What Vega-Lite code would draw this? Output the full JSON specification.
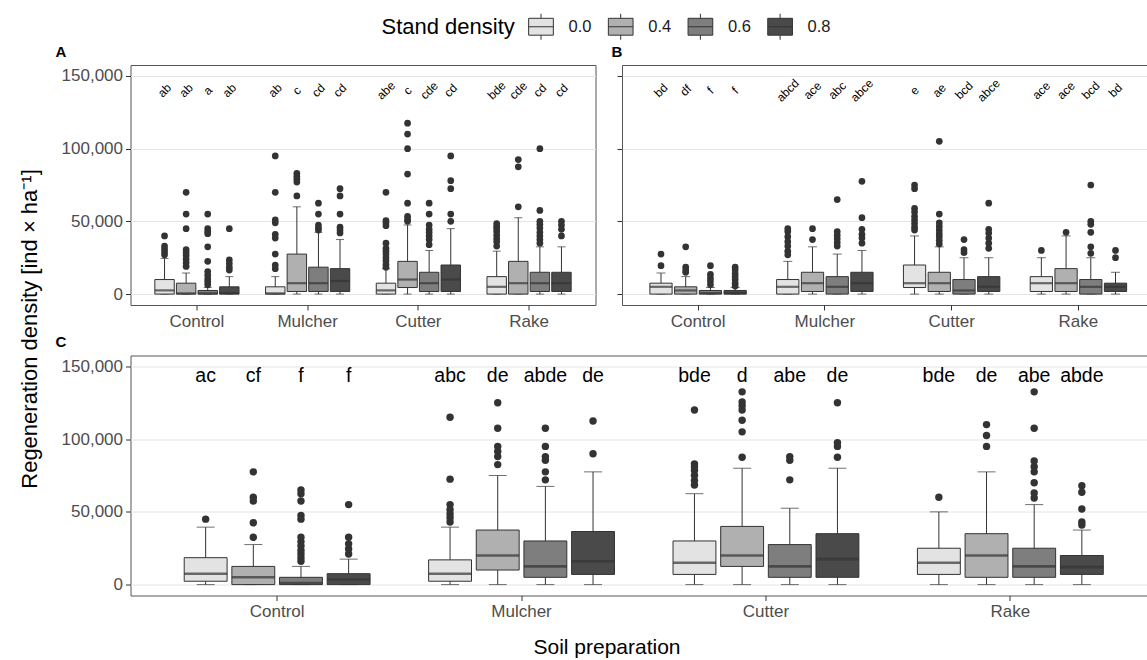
{
  "$schema": "https://vega.github.io/schema/vega-lite/v6.json",
  "background": "white",
  "padding": {"left": 18.5, "top": 13, "right": 0, "bottom": 0},
  "title": {"text": "Regeneration density [ind × ha⁻¹]", "orient": "left", "anchor": "middle", "frame": "bounds", "fontSize": 22, "fontWeight": "normal", "color": "#000000", "offset": 13, "dx": 6.5, "font": "Liberation Sans"},
  "config": {
    "font": "Liberation Sans",
    "view": {"stroke": "#555555", "strokeWidth": 1},
    "axis": {
      "domain": false,
      "labelFont": "Liberation Sans",
      "labelFontSize": 17,
      "labelColor": "#4D4D4D",
      "tickColor": "#333333",
      "tickSize": 5,
      "labelPadding": 3,
      "titleFont": "Liberation Sans",
      "titleFontSize": 21,
      "titleFontWeight": "normal",
      "titleColor": "#000000"
    },
    "axisX": {"grid": false, "labelAngle": 0},
    "title": {"anchor": "start", "frame": "group", "fontSize": 15, "fontWeight": "bold", "color": "#000000", "offset": 5.5, "font": "Liberation Sans"},
    "legend": {
      "direction": "horizontal",
      "titleOrient": "left",
      "titleFontSize": 22,
      "titleFontWeight": "normal",
      "titleColor": "#000000",
      "titleFont": "Liberation Sans",
      "titlePadding": 12,
      "labelFontSize": 16.5,
      "labelColor": "#1A1A1A",
      "labelFont": "Liberation Sans",
      "labelOffset": 14,
      "columnPadding": 14.7,
      "symbolType": "M-0.95,-0.65H0.95V0.65H-0.95Z M-0.95,0H0.95 M0,-0.65V-1 M0,0.65V1",
      "symbolSize": 676,
      "symbolStrokeColor": "#333333",
      "symbolStrokeWidth": 1,
      "padding": 0
    }
  },
  "datasets": {
    "boxes": [
      {"panel": "A", "prep": "Control", "dens": "0.0", "lo": 0, "q1": 0, "med": 2500, "q3": 10000, "hi": 24500},
      {"panel": "A", "prep": "Control", "dens": "0.4", "lo": 0, "q1": 0, "med": 500, "q3": 7500, "hi": 14500},
      {"panel": "A", "prep": "Control", "dens": "0.6", "lo": 0, "q1": 0, "med": 500, "q3": 2500, "hi": 4500},
      {"panel": "A", "prep": "Control", "dens": "0.8", "lo": 0, "q1": 0, "med": 700, "q3": 5000, "hi": 12000},
      {"panel": "A", "prep": "Mulcher", "dens": "0.0", "lo": 0, "q1": 0, "med": 500, "q3": 5000, "hi": 12000},
      {"panel": "A", "prep": "Mulcher", "dens": "0.4", "lo": 0, "q1": 1800, "med": 7500, "q3": 27500, "hi": 60000},
      {"panel": "A", "prep": "Mulcher", "dens": "0.6", "lo": 0, "q1": 1800, "med": 7500, "q3": 18500, "hi": 42500},
      {"panel": "A", "prep": "Mulcher", "dens": "0.8", "lo": 0, "q1": 1800, "med": 9000, "q3": 17500, "hi": 37500},
      {"panel": "A", "prep": "Cutter", "dens": "0.0", "lo": 0, "q1": 0, "med": 2500, "q3": 7500, "hi": 17500},
      {"panel": "A", "prep": "Cutter", "dens": "0.4", "lo": 0, "q1": 4500, "med": 10000, "q3": 22500, "hi": 47500},
      {"panel": "A", "prep": "Cutter", "dens": "0.6", "lo": 0, "q1": 1800, "med": 7500, "q3": 15000, "hi": 30000},
      {"panel": "A", "prep": "Cutter", "dens": "0.8", "lo": 0, "q1": 1800, "med": 10000, "q3": 20000, "hi": 45000},
      {"panel": "A", "prep": "Rake", "dens": "0.0", "lo": 0, "q1": 0, "med": 5000, "q3": 12000, "hi": 29500},
      {"panel": "A", "prep": "Rake", "dens": "0.4", "lo": 0, "q1": 0, "med": 7500, "q3": 22500, "hi": 52500},
      {"panel": "A", "prep": "Rake", "dens": "0.6", "lo": 0, "q1": 1800, "med": 7500, "q3": 15000, "hi": 32500},
      {"panel": "A", "prep": "Rake", "dens": "0.8", "lo": 0, "q1": 1800, "med": 7500, "q3": 15000, "hi": 32500},

      {"panel": "B", "prep": "Control", "dens": "0.0", "lo": 0, "q1": 0, "med": 5000, "q3": 7500, "hi": 14500},
      {"panel": "B", "prep": "Control", "dens": "0.4", "lo": 0, "q1": 0, "med": 2500, "q3": 5000, "hi": 12000},
      {"panel": "B", "prep": "Control", "dens": "0.6", "lo": 0, "q1": 0, "med": 700, "q3": 2500, "hi": 4500},
      {"panel": "B", "prep": "Control", "dens": "0.8", "lo": 0, "q1": 0, "med": 700, "q3": 2500, "hi": 4500},
      {"panel": "B", "prep": "Mulcher", "dens": "0.0", "lo": 0, "q1": 0, "med": 5000, "q3": 10000, "hi": 22500},
      {"panel": "B", "prep": "Mulcher", "dens": "0.4", "lo": 0, "q1": 1800, "med": 7500, "q3": 15000, "hi": 32500},
      {"panel": "B", "prep": "Mulcher", "dens": "0.6", "lo": 0, "q1": 0, "med": 5000, "q3": 12000, "hi": 27500},
      {"panel": "B", "prep": "Mulcher", "dens": "0.8", "lo": 0, "q1": 1800, "med": 7500, "q3": 15000, "hi": 30000},
      {"panel": "B", "prep": "Cutter", "dens": "0.0", "lo": 0, "q1": 4500, "med": 7500, "q3": 20000, "hi": 40000},
      {"panel": "B", "prep": "Cutter", "dens": "0.4", "lo": 0, "q1": 1800, "med": 7500, "q3": 15000, "hi": 32500},
      {"panel": "B", "prep": "Cutter", "dens": "0.6", "lo": 0, "q1": 0, "med": 2500, "q3": 10000, "hi": 25000},
      {"panel": "B", "prep": "Cutter", "dens": "0.8", "lo": 0, "q1": 1800, "med": 5000, "q3": 12000, "hi": 25000},
      {"panel": "B", "prep": "Rake", "dens": "0.0", "lo": 0, "q1": 1800, "med": 7500, "q3": 12000, "hi": 25000},
      {"panel": "B", "prep": "Rake", "dens": "0.4", "lo": 0, "q1": 1800, "med": 7500, "q3": 17500, "hi": 40000},
      {"panel": "B", "prep": "Rake", "dens": "0.6", "lo": 0, "q1": 0, "med": 5000, "q3": 10000, "hi": 25000},
      {"panel": "B", "prep": "Rake", "dens": "0.8", "lo": 0, "q1": 1800, "med": 5000, "q3": 7500, "hi": 15000},

      {"panel": "C", "prep": "Control", "dens": "0.0", "lo": 0, "q1": 2300, "med": 7500, "q3": 18500, "hi": 39500},
      {"panel": "C", "prep": "Control", "dens": "0.4", "lo": 0, "q1": 0, "med": 5000, "q3": 12500, "hi": 27500},
      {"panel": "C", "prep": "Control", "dens": "0.6", "lo": 0, "q1": 0, "med": 1000, "q3": 5000, "hi": 12500},
      {"panel": "C", "prep": "Control", "dens": "0.8", "lo": 0, "q1": 0, "med": 3500, "q3": 7500, "hi": 17500},
      {"panel": "C", "prep": "Mulcher", "dens": "0.0", "lo": 0, "q1": 2300, "med": 7500, "q3": 17000, "hi": 39500},
      {"panel": "C", "prep": "Mulcher", "dens": "0.4", "lo": 0, "q1": 10000, "med": 20000, "q3": 37500, "hi": 75000},
      {"panel": "C", "prep": "Mulcher", "dens": "0.6", "lo": 0, "q1": 5000, "med": 12500, "q3": 30000, "hi": 67500},
      {"panel": "C", "prep": "Mulcher", "dens": "0.8", "lo": 0, "q1": 7000, "med": 16000, "q3": 36500, "hi": 77500},
      {"panel": "C", "prep": "Cutter", "dens": "0.0", "lo": 0, "q1": 7000, "med": 15000, "q3": 30000, "hi": 62500},
      {"panel": "C", "prep": "Cutter", "dens": "0.4", "lo": 0, "q1": 12500, "med": 20000, "q3": 40000, "hi": 80000},
      {"panel": "C", "prep": "Cutter", "dens": "0.6", "lo": 0, "q1": 5000, "med": 12500, "q3": 27500, "hi": 52500},
      {"panel": "C", "prep": "Cutter", "dens": "0.8", "lo": 0, "q1": 5000, "med": 17500, "q3": 35000, "hi": 80000},
      {"panel": "C", "prep": "Rake", "dens": "0.0", "lo": 0, "q1": 7000, "med": 15000, "q3": 25000, "hi": 50000},
      {"panel": "C", "prep": "Rake", "dens": "0.4", "lo": 0, "q1": 5000, "med": 20000, "q3": 35000, "hi": 77500},
      {"panel": "C", "prep": "Rake", "dens": "0.6", "lo": 0, "q1": 5000, "med": 12500, "q3": 25000, "hi": 55000},
      {"panel": "C", "prep": "Rake", "dens": "0.8", "lo": 0, "q1": 7000, "med": 12000, "q3": 20000, "hi": 37500}
    ],
    "outliers": [
      {"panel": "A", "prep": "Control", "dens": "0.0", "v": 40000}, {"panel": "A", "prep": "Control", "dens": "0.0", "v": 33000}, {"panel": "A", "prep": "Control", "dens": "0.0", "v": 31000}, {"panel": "A", "prep": "Control", "dens": "0.0", "v": 29000}, {"panel": "A", "prep": "Control", "dens": "0.0", "v": 27000},
      {"panel": "A", "prep": "Control", "dens": "0.4", "v": 70000}, {"panel": "A", "prep": "Control", "dens": "0.4", "v": 55000}, {"panel": "A", "prep": "Control", "dens": "0.4", "v": 45000}, {"panel": "A", "prep": "Control", "dens": "0.4", "v": 30500}, {"panel": "A", "prep": "Control", "dens": "0.4", "v": 28500}, {"panel": "A", "prep": "Control", "dens": "0.4", "v": 26500}, {"panel": "A", "prep": "Control", "dens": "0.4", "v": 24000}, {"panel": "A", "prep": "Control", "dens": "0.4", "v": 21500}, {"panel": "A", "prep": "Control", "dens": "0.4", "v": 19000},
      {"panel": "A", "prep": "Control", "dens": "0.6", "v": 55000}, {"panel": "A", "prep": "Control", "dens": "0.6", "v": 45000}, {"panel": "A", "prep": "Control", "dens": "0.6", "v": 43000}, {"panel": "A", "prep": "Control", "dens": "0.6", "v": 41500}, {"panel": "A", "prep": "Control", "dens": "0.6", "v": 32500}, {"panel": "A", "prep": "Control", "dens": "0.6", "v": 22500}, {"panel": "A", "prep": "Control", "dens": "0.6", "v": 15500}, {"panel": "A", "prep": "Control", "dens": "0.6", "v": 13000}, {"panel": "A", "prep": "Control", "dens": "0.6", "v": 10500}, {"panel": "A", "prep": "Control", "dens": "0.6", "v": 8500}, {"panel": "A", "prep": "Control", "dens": "0.6", "v": 6500},
      {"panel": "A", "prep": "Control", "dens": "0.8", "v": 45000}, {"panel": "A", "prep": "Control", "dens": "0.8", "v": 23500}, {"panel": "A", "prep": "Control", "dens": "0.8", "v": 21000}, {"panel": "A", "prep": "Control", "dens": "0.8", "v": 18500}, {"panel": "A", "prep": "Control", "dens": "0.8", "v": 16500},
      {"panel": "A", "prep": "Mulcher", "dens": "0.0", "v": 95000}, {"panel": "A", "prep": "Mulcher", "dens": "0.0", "v": 70000}, {"panel": "A", "prep": "Mulcher", "dens": "0.0", "v": 51000}, {"panel": "A", "prep": "Mulcher", "dens": "0.0", "v": 49000}, {"panel": "A", "prep": "Mulcher", "dens": "0.0", "v": 41000}, {"panel": "A", "prep": "Mulcher", "dens": "0.0", "v": 38500}, {"panel": "A", "prep": "Mulcher", "dens": "0.0", "v": 27500}, {"panel": "A", "prep": "Mulcher", "dens": "0.0", "v": 20000}, {"panel": "A", "prep": "Mulcher", "dens": "0.0", "v": 17500},
      {"panel": "A", "prep": "Mulcher", "dens": "0.4", "v": 83000}, {"panel": "A", "prep": "Mulcher", "dens": "0.4", "v": 81000}, {"panel": "A", "prep": "Mulcher", "dens": "0.4", "v": 79000}, {"panel": "A", "prep": "Mulcher", "dens": "0.4", "v": 77000}, {"panel": "A", "prep": "Mulcher", "dens": "0.4", "v": 67500},
      {"panel": "A", "prep": "Mulcher", "dens": "0.6", "v": 62500}, {"panel": "A", "prep": "Mulcher", "dens": "0.6", "v": 55000}, {"panel": "A", "prep": "Mulcher", "dens": "0.6", "v": 47500}, {"panel": "A", "prep": "Mulcher", "dens": "0.6", "v": 45500}, {"panel": "A", "prep": "Mulcher", "dens": "0.6", "v": 44000},
      {"panel": "A", "prep": "Mulcher", "dens": "0.8", "v": 72500}, {"panel": "A", "prep": "Mulcher", "dens": "0.8", "v": 67500}, {"panel": "A", "prep": "Mulcher", "dens": "0.8", "v": 55000}, {"panel": "A", "prep": "Mulcher", "dens": "0.8", "v": 46000}, {"panel": "A", "prep": "Mulcher", "dens": "0.8", "v": 44000}, {"panel": "A", "prep": "Mulcher", "dens": "0.8", "v": 42000},
      {"panel": "A", "prep": "Cutter", "dens": "0.0", "v": 70000}, {"panel": "A", "prep": "Cutter", "dens": "0.0", "v": 50500}, {"panel": "A", "prep": "Cutter", "dens": "0.0", "v": 49000}, {"panel": "A", "prep": "Cutter", "dens": "0.0", "v": 47000}, {"panel": "A", "prep": "Cutter", "dens": "0.0", "v": 35000}, {"panel": "A", "prep": "Cutter", "dens": "0.0", "v": 31500}, {"panel": "A", "prep": "Cutter", "dens": "0.0", "v": 29500}, {"panel": "A", "prep": "Cutter", "dens": "0.0", "v": 27500}, {"panel": "A", "prep": "Cutter", "dens": "0.0", "v": 25000}, {"panel": "A", "prep": "Cutter", "dens": "0.0", "v": 23000}, {"panel": "A", "prep": "Cutter", "dens": "0.0", "v": 20500}, {"panel": "A", "prep": "Cutter", "dens": "0.0", "v": 18500},
      {"panel": "A", "prep": "Cutter", "dens": "0.4", "v": 117500}, {"panel": "A", "prep": "Cutter", "dens": "0.4", "v": 110000}, {"panel": "A", "prep": "Cutter", "dens": "0.4", "v": 100000}, {"panel": "A", "prep": "Cutter", "dens": "0.4", "v": 82500}, {"panel": "A", "prep": "Cutter", "dens": "0.4", "v": 62500}, {"panel": "A", "prep": "Cutter", "dens": "0.4", "v": 53500}, {"panel": "A", "prep": "Cutter", "dens": "0.4", "v": 51500}, {"panel": "A", "prep": "Cutter", "dens": "0.4", "v": 50000},
      {"panel": "A", "prep": "Cutter", "dens": "0.6", "v": 62500}, {"panel": "A", "prep": "Cutter", "dens": "0.6", "v": 55000}, {"panel": "A", "prep": "Cutter", "dens": "0.6", "v": 47500}, {"panel": "A", "prep": "Cutter", "dens": "0.6", "v": 44500}, {"panel": "A", "prep": "Cutter", "dens": "0.6", "v": 42500}, {"panel": "A", "prep": "Cutter", "dens": "0.6", "v": 40000}, {"panel": "A", "prep": "Cutter", "dens": "0.6", "v": 37500}, {"panel": "A", "prep": "Cutter", "dens": "0.6", "v": 34000},
      {"panel": "A", "prep": "Cutter", "dens": "0.8", "v": 95000}, {"panel": "A", "prep": "Cutter", "dens": "0.8", "v": 78000}, {"panel": "A", "prep": "Cutter", "dens": "0.8", "v": 72500}, {"panel": "A", "prep": "Cutter", "dens": "0.8", "v": 55000}, {"panel": "A", "prep": "Cutter", "dens": "0.8", "v": 50000},
      {"panel": "A", "prep": "Rake", "dens": "0.0", "v": 48500}, {"panel": "A", "prep": "Rake", "dens": "0.0", "v": 46500}, {"panel": "A", "prep": "Rake", "dens": "0.0", "v": 45000}, {"panel": "A", "prep": "Rake", "dens": "0.0", "v": 43000}, {"panel": "A", "prep": "Rake", "dens": "0.0", "v": 40500}, {"panel": "A", "prep": "Rake", "dens": "0.0", "v": 38000}, {"panel": "A", "prep": "Rake", "dens": "0.0", "v": 36000}, {"panel": "A", "prep": "Rake", "dens": "0.0", "v": 33000},
      {"panel": "A", "prep": "Rake", "dens": "0.4", "v": 92500}, {"panel": "A", "prep": "Rake", "dens": "0.4", "v": 87500}, {"panel": "A", "prep": "Rake", "dens": "0.4", "v": 60000},
      {"panel": "A", "prep": "Rake", "dens": "0.6", "v": 100000}, {"panel": "A", "prep": "Rake", "dens": "0.6", "v": 57500}, {"panel": "A", "prep": "Rake", "dens": "0.6", "v": 50000}, {"panel": "A", "prep": "Rake", "dens": "0.6", "v": 48000}, {"panel": "A", "prep": "Rake", "dens": "0.6", "v": 45500}, {"panel": "A", "prep": "Rake", "dens": "0.6", "v": 42500}, {"panel": "A", "prep": "Rake", "dens": "0.6", "v": 40000}, {"panel": "A", "prep": "Rake", "dens": "0.6", "v": 37500}, {"panel": "A", "prep": "Rake", "dens": "0.6", "v": 35000},
      {"panel": "A", "prep": "Rake", "dens": "0.8", "v": 50000}, {"panel": "A", "prep": "Rake", "dens": "0.8", "v": 47500}, {"panel": "A", "prep": "Rake", "dens": "0.8", "v": 44500}, {"panel": "A", "prep": "Rake", "dens": "0.8", "v": 40000},

      {"panel": "B", "prep": "Control", "dens": "0.0", "v": 27500}, {"panel": "B", "prep": "Control", "dens": "0.0", "v": 19500},
      {"panel": "B", "prep": "Control", "dens": "0.4", "v": 32500}, {"panel": "B", "prep": "Control", "dens": "0.4", "v": 18500}, {"panel": "B", "prep": "Control", "dens": "0.4", "v": 16500}, {"panel": "B", "prep": "Control", "dens": "0.4", "v": 15000},
      {"panel": "B", "prep": "Control", "dens": "0.6", "v": 19500}, {"panel": "B", "prep": "Control", "dens": "0.6", "v": 13500}, {"panel": "B", "prep": "Control", "dens": "0.6", "v": 11000}, {"panel": "B", "prep": "Control", "dens": "0.6", "v": 9000}, {"panel": "B", "prep": "Control", "dens": "0.6", "v": 6500},
      {"panel": "B", "prep": "Control", "dens": "0.8", "v": 18500}, {"panel": "B", "prep": "Control", "dens": "0.8", "v": 16500}, {"panel": "B", "prep": "Control", "dens": "0.8", "v": 14000}, {"panel": "B", "prep": "Control", "dens": "0.8", "v": 12000}, {"panel": "B", "prep": "Control", "dens": "0.8", "v": 10000}, {"panel": "B", "prep": "Control", "dens": "0.8", "v": 7500}, {"panel": "B", "prep": "Control", "dens": "0.8", "v": 5500},
      {"panel": "B", "prep": "Mulcher", "dens": "0.0", "v": 45000}, {"panel": "B", "prep": "Mulcher", "dens": "0.0", "v": 43000}, {"panel": "B", "prep": "Mulcher", "dens": "0.0", "v": 39500}, {"panel": "B", "prep": "Mulcher", "dens": "0.0", "v": 36000}, {"panel": "B", "prep": "Mulcher", "dens": "0.0", "v": 33000}, {"panel": "B", "prep": "Mulcher", "dens": "0.0", "v": 29500}, {"panel": "B", "prep": "Mulcher", "dens": "0.0", "v": 27000},
      {"panel": "B", "prep": "Mulcher", "dens": "0.4", "v": 45000}, {"panel": "B", "prep": "Mulcher", "dens": "0.4", "v": 37500},
      {"panel": "B", "prep": "Mulcher", "dens": "0.6", "v": 65000}, {"panel": "B", "prep": "Mulcher", "dens": "0.6", "v": 43000}, {"panel": "B", "prep": "Mulcher", "dens": "0.6", "v": 40500}, {"panel": "B", "prep": "Mulcher", "dens": "0.6", "v": 38000}, {"panel": "B", "prep": "Mulcher", "dens": "0.6", "v": 35500}, {"panel": "B", "prep": "Mulcher", "dens": "0.6", "v": 33000},
      {"panel": "B", "prep": "Mulcher", "dens": "0.8", "v": 77500}, {"panel": "B", "prep": "Mulcher", "dens": "0.8", "v": 52500}, {"panel": "B", "prep": "Mulcher", "dens": "0.8", "v": 44500}, {"panel": "B", "prep": "Mulcher", "dens": "0.8", "v": 41000}, {"panel": "B", "prep": "Mulcher", "dens": "0.8", "v": 38500}, {"panel": "B", "prep": "Mulcher", "dens": "0.8", "v": 35000},
      {"panel": "B", "prep": "Cutter", "dens": "0.0", "v": 75000}, {"panel": "B", "prep": "Cutter", "dens": "0.0", "v": 72500}, {"panel": "B", "prep": "Cutter", "dens": "0.0", "v": 59000}, {"panel": "B", "prep": "Cutter", "dens": "0.0", "v": 56500}, {"panel": "B", "prep": "Cutter", "dens": "0.0", "v": 53500}, {"panel": "B", "prep": "Cutter", "dens": "0.0", "v": 51000}, {"panel": "B", "prep": "Cutter", "dens": "0.0", "v": 48500}, {"panel": "B", "prep": "Cutter", "dens": "0.0", "v": 46000}, {"panel": "B", "prep": "Cutter", "dens": "0.0", "v": 44000},
      {"panel": "B", "prep": "Cutter", "dens": "0.4", "v": 105000}, {"panel": "B", "prep": "Cutter", "dens": "0.4", "v": 55000}, {"panel": "B", "prep": "Cutter", "dens": "0.4", "v": 49000}, {"panel": "B", "prep": "Cutter", "dens": "0.4", "v": 46500}, {"panel": "B", "prep": "Cutter", "dens": "0.4", "v": 44000}, {"panel": "B", "prep": "Cutter", "dens": "0.4", "v": 41500}, {"panel": "B", "prep": "Cutter", "dens": "0.4", "v": 39500}, {"panel": "B", "prep": "Cutter", "dens": "0.4", "v": 37000}, {"panel": "B", "prep": "Cutter", "dens": "0.4", "v": 34500},
      {"panel": "B", "prep": "Cutter", "dens": "0.6", "v": 37500}, {"panel": "B", "prep": "Cutter", "dens": "0.6", "v": 30500}, {"panel": "B", "prep": "Cutter", "dens": "0.6", "v": 28500},
      {"panel": "B", "prep": "Cutter", "dens": "0.8", "v": 62500}, {"panel": "B", "prep": "Cutter", "dens": "0.8", "v": 44500}, {"panel": "B", "prep": "Cutter", "dens": "0.8", "v": 42000}, {"panel": "B", "prep": "Cutter", "dens": "0.8", "v": 38500}, {"panel": "B", "prep": "Cutter", "dens": "0.8", "v": 35000}, {"panel": "B", "prep": "Cutter", "dens": "0.8", "v": 31500},
      {"panel": "B", "prep": "Rake", "dens": "0.0", "v": 30000},
      {"panel": "B", "prep": "Rake", "dens": "0.4", "v": 42500},
      {"panel": "B", "prep": "Rake", "dens": "0.6", "v": 75000}, {"panel": "B", "prep": "Rake", "dens": "0.6", "v": 50000}, {"panel": "B", "prep": "Rake", "dens": "0.6", "v": 48000}, {"panel": "B", "prep": "Rake", "dens": "0.6", "v": 42500}, {"panel": "B", "prep": "Rake", "dens": "0.6", "v": 32500}, {"panel": "B", "prep": "Rake", "dens": "0.6", "v": 28000},
      {"panel": "B", "prep": "Rake", "dens": "0.8", "v": 30000}, {"panel": "B", "prep": "Rake", "dens": "0.8", "v": 25000},

      {"panel": "C", "prep": "Control", "dens": "0.0", "v": 45000},
      {"panel": "C", "prep": "Control", "dens": "0.4", "v": 77500}, {"panel": "C", "prep": "Control", "dens": "0.4", "v": 60000}, {"panel": "C", "prep": "Control", "dens": "0.4", "v": 57500}, {"panel": "C", "prep": "Control", "dens": "0.4", "v": 42500}, {"panel": "C", "prep": "Control", "dens": "0.4", "v": 32500},
      {"panel": "C", "prep": "Control", "dens": "0.6", "v": 65000}, {"panel": "C", "prep": "Control", "dens": "0.6", "v": 62500}, {"panel": "C", "prep": "Control", "dens": "0.6", "v": 57500}, {"panel": "C", "prep": "Control", "dens": "0.6", "v": 47500}, {"panel": "C", "prep": "Control", "dens": "0.6", "v": 45000}, {"panel": "C", "prep": "Control", "dens": "0.6", "v": 32500}, {"panel": "C", "prep": "Control", "dens": "0.6", "v": 29500}, {"panel": "C", "prep": "Control", "dens": "0.6", "v": 26500}, {"panel": "C", "prep": "Control", "dens": "0.6", "v": 23500}, {"panel": "C", "prep": "Control", "dens": "0.6", "v": 21000}, {"panel": "C", "prep": "Control", "dens": "0.6", "v": 18500}, {"panel": "C", "prep": "Control", "dens": "0.6", "v": 16000},
      {"panel": "C", "prep": "Control", "dens": "0.8", "v": 55000}, {"panel": "C", "prep": "Control", "dens": "0.8", "v": 32500}, {"panel": "C", "prep": "Control", "dens": "0.8", "v": 28000}, {"panel": "C", "prep": "Control", "dens": "0.8", "v": 24500}, {"panel": "C", "prep": "Control", "dens": "0.8", "v": 21000},
      {"panel": "C", "prep": "Mulcher", "dens": "0.0", "v": 115000}, {"panel": "C", "prep": "Mulcher", "dens": "0.0", "v": 72500}, {"panel": "C", "prep": "Mulcher", "dens": "0.0", "v": 55000}, {"panel": "C", "prep": "Mulcher", "dens": "0.0", "v": 51500}, {"panel": "C", "prep": "Mulcher", "dens": "0.0", "v": 48500}, {"panel": "C", "prep": "Mulcher", "dens": "0.0", "v": 46000}, {"panel": "C", "prep": "Mulcher", "dens": "0.0", "v": 43000},
      {"panel": "C", "prep": "Mulcher", "dens": "0.4", "v": 125000}, {"panel": "C", "prep": "Mulcher", "dens": "0.4", "v": 107500}, {"panel": "C", "prep": "Mulcher", "dens": "0.4", "v": 95000}, {"panel": "C", "prep": "Mulcher", "dens": "0.4", "v": 91500}, {"panel": "C", "prep": "Mulcher", "dens": "0.4", "v": 88000}, {"panel": "C", "prep": "Mulcher", "dens": "0.4", "v": 82500},
      {"panel": "C", "prep": "Mulcher", "dens": "0.6", "v": 107500}, {"panel": "C", "prep": "Mulcher", "dens": "0.6", "v": 95000}, {"panel": "C", "prep": "Mulcher", "dens": "0.6", "v": 88000}, {"panel": "C", "prep": "Mulcher", "dens": "0.6", "v": 85500}, {"panel": "C", "prep": "Mulcher", "dens": "0.6", "v": 77500}, {"panel": "C", "prep": "Mulcher", "dens": "0.6", "v": 72000},
      {"panel": "C", "prep": "Mulcher", "dens": "0.8", "v": 112500}, {"panel": "C", "prep": "Mulcher", "dens": "0.8", "v": 90000},
      {"panel": "C", "prep": "Cutter", "dens": "0.0", "v": 120000}, {"panel": "C", "prep": "Cutter", "dens": "0.0", "v": 83000}, {"panel": "C", "prep": "Cutter", "dens": "0.0", "v": 81000}, {"panel": "C", "prep": "Cutter", "dens": "0.0", "v": 78500}, {"panel": "C", "prep": "Cutter", "dens": "0.0", "v": 75000}, {"panel": "C", "prep": "Cutter", "dens": "0.0", "v": 71500}, {"panel": "C", "prep": "Cutter", "dens": "0.0", "v": 68500},
      {"panel": "C", "prep": "Cutter", "dens": "0.4", "v": 132500}, {"panel": "C", "prep": "Cutter", "dens": "0.4", "v": 125500}, {"panel": "C", "prep": "Cutter", "dens": "0.4", "v": 123000}, {"panel": "C", "prep": "Cutter", "dens": "0.4", "v": 120000}, {"panel": "C", "prep": "Cutter", "dens": "0.4", "v": 113000}, {"panel": "C", "prep": "Cutter", "dens": "0.4", "v": 105000}, {"panel": "C", "prep": "Cutter", "dens": "0.4", "v": 87500},
      {"panel": "C", "prep": "Cutter", "dens": "0.6", "v": 88000}, {"panel": "C", "prep": "Cutter", "dens": "0.6", "v": 85500}, {"panel": "C", "prep": "Cutter", "dens": "0.6", "v": 72000},
      {"panel": "C", "prep": "Cutter", "dens": "0.8", "v": 125000}, {"panel": "C", "prep": "Cutter", "dens": "0.8", "v": 97500}, {"panel": "C", "prep": "Cutter", "dens": "0.8", "v": 95000}, {"panel": "C", "prep": "Cutter", "dens": "0.8", "v": 87500},
      {"panel": "C", "prep": "Rake", "dens": "0.0", "v": 60000},
      {"panel": "C", "prep": "Rake", "dens": "0.4", "v": 110000}, {"panel": "C", "prep": "Rake", "dens": "0.4", "v": 102500}, {"panel": "C", "prep": "Rake", "dens": "0.4", "v": 95000},
      {"panel": "C", "prep": "Rake", "dens": "0.6", "v": 132500}, {"panel": "C", "prep": "Rake", "dens": "0.6", "v": 107500}, {"panel": "C", "prep": "Rake", "dens": "0.6", "v": 85000}, {"panel": "C", "prep": "Rake", "dens": "0.6", "v": 81000}, {"panel": "C", "prep": "Rake", "dens": "0.6", "v": 77500}, {"panel": "C", "prep": "Rake", "dens": "0.6", "v": 70000}, {"panel": "C", "prep": "Rake", "dens": "0.6", "v": 63000}, {"panel": "C", "prep": "Rake", "dens": "0.6", "v": 59500},
      {"panel": "C", "prep": "Rake", "dens": "0.8", "v": 68000}, {"panel": "C", "prep": "Rake", "dens": "0.8", "v": 63500}, {"panel": "C", "prep": "Rake", "dens": "0.8", "v": 52000}, {"panel": "C", "prep": "Rake", "dens": "0.8", "v": 43000}, {"panel": "C", "prep": "Rake", "dens": "0.8", "v": 41000}
    ],
    "letters": [
      {"panel": "A", "prep": "Control", "dens": "0.0", "lab": "ab"}, {"panel": "A", "prep": "Control", "dens": "0.4", "lab": "ab"}, {"panel": "A", "prep": "Control", "dens": "0.6", "lab": "a"}, {"panel": "A", "prep": "Control", "dens": "0.8", "lab": "ab"},
      {"panel": "A", "prep": "Mulcher", "dens": "0.0", "lab": "ab"}, {"panel": "A", "prep": "Mulcher", "dens": "0.4", "lab": "c"}, {"panel": "A", "prep": "Mulcher", "dens": "0.6", "lab": "cd"}, {"panel": "A", "prep": "Mulcher", "dens": "0.8", "lab": "cd"},
      {"panel": "A", "prep": "Cutter", "dens": "0.0", "lab": "abe"}, {"panel": "A", "prep": "Cutter", "dens": "0.4", "lab": "c"}, {"panel": "A", "prep": "Cutter", "dens": "0.6", "lab": "cde"}, {"panel": "A", "prep": "Cutter", "dens": "0.8", "lab": "cd"},
      {"panel": "A", "prep": "Rake", "dens": "0.0", "lab": "bde"}, {"panel": "A", "prep": "Rake", "dens": "0.4", "lab": "cde"}, {"panel": "A", "prep": "Rake", "dens": "0.6", "lab": "cd"}, {"panel": "A", "prep": "Rake", "dens": "0.8", "lab": "cd"},
      {"panel": "B", "prep": "Control", "dens": "0.0", "lab": "bd"}, {"panel": "B", "prep": "Control", "dens": "0.4", "lab": "df"}, {"panel": "B", "prep": "Control", "dens": "0.6", "lab": "f"}, {"panel": "B", "prep": "Control", "dens": "0.8", "lab": "f"},
      {"panel": "B", "prep": "Mulcher", "dens": "0.0", "lab": "abcd"}, {"panel": "B", "prep": "Mulcher", "dens": "0.4", "lab": "ace"}, {"panel": "B", "prep": "Mulcher", "dens": "0.6", "lab": "abc"}, {"panel": "B", "prep": "Mulcher", "dens": "0.8", "lab": "abce"},
      {"panel": "B", "prep": "Cutter", "dens": "0.0", "lab": "e"}, {"panel": "B", "prep": "Cutter", "dens": "0.4", "lab": "ae"}, {"panel": "B", "prep": "Cutter", "dens": "0.6", "lab": "bcd"}, {"panel": "B", "prep": "Cutter", "dens": "0.8", "lab": "abce"},
      {"panel": "B", "prep": "Rake", "dens": "0.0", "lab": "ace"}, {"panel": "B", "prep": "Rake", "dens": "0.4", "lab": "ace"}, {"panel": "B", "prep": "Rake", "dens": "0.6", "lab": "bcd"}, {"panel": "B", "prep": "Rake", "dens": "0.8", "lab": "bd"},
      {"panel": "C", "prep": "Control", "dens": "0.0", "lab": "ac"}, {"panel": "C", "prep": "Control", "dens": "0.4", "lab": "cf"}, {"panel": "C", "prep": "Control", "dens": "0.6", "lab": "f"}, {"panel": "C", "prep": "Control", "dens": "0.8", "lab": "f"},
      {"panel": "C", "prep": "Mulcher", "dens": "0.0", "lab": "abc"}, {"panel": "C", "prep": "Mulcher", "dens": "0.4", "lab": "de"}, {"panel": "C", "prep": "Mulcher", "dens": "0.6", "lab": "abde"}, {"panel": "C", "prep": "Mulcher", "dens": "0.8", "lab": "de"},
      {"panel": "C", "prep": "Cutter", "dens": "0.0", "lab": "bde"}, {"panel": "C", "prep": "Cutter", "dens": "0.4", "lab": "d"}, {"panel": "C", "prep": "Cutter", "dens": "0.6", "lab": "abe"}, {"panel": "C", "prep": "Cutter", "dens": "0.8", "lab": "de"},
      {"panel": "C", "prep": "Rake", "dens": "0.0", "lab": "bde"}, {"panel": "C", "prep": "Rake", "dens": "0.4", "lab": "de"}, {"panel": "C", "prep": "Rake", "dens": "0.6", "lab": "abe"}, {"panel": "C", "prep": "Rake", "dens": "0.8", "lab": "abde"}
    ]
  },
  "spacing": 4.5,
  "resolve": {"scale": {"x": "independent", "xOffset": "independent", "y": "independent", "fill": "shared"}, "legend": {"fill": "shared"}},
  "vconcat": [
    {
      "spacing": 14.5,
      "resolve": {"scale": {"x": "independent", "xOffset": "independent", "y": "independent", "fill": "shared"}},
      "hconcat": [
        {
          "width": 465,
          "height": 240,
          "title": {"text": "A", "dx": -75},
          "encoding": {
            "x": {"field": "prep", "type": "nominal", "sort": ["Control", "Mulcher", "Cutter", "Rake"], "scale": {"paddingInner": 0.22, "paddingOuter": 0.21}, "axis": {"title": null}},
            "xOffset": {"field": "dens", "type": "nominal", "sort": ["0.0", "0.4", "0.6", "0.8"], "scale": {"paddingInner": 0.1, "paddingOuter": 0.05}}
          },
          "layer": [
            {
              "data": {"name": "boxes"},
              "transform": [{"filter": "datum.panel === 'A'"}],
              "mark": {"type": "rule", "color": "#333333", "strokeWidth": 1},
              "encoding": {
                "y": {"field": "lo", "type": "quantitative", "scale": {"domain": [-7500, 157500], "nice": false, "zero": false},
                  "axis": {"title": null, "values": [0, 25000, 50000, 75000, 100000, 125000, 150000], "labelExpr": "datum.value % 50000 === 0 ? format(datum.value, ',') : ''", "labelOverlap": false, "grid": true,
                    "gridColor": {"condition": {"test": "datum.value % 50000 === 0", "value": "#E4E4E4"}, "value": "#F2F2F2"},
                    "gridWidth": {"condition": {"test": "datum.value % 50000 === 0", "value": 1}, "value": 0.8},
                    "tickOpacity": {"condition": {"test": "datum.value % 50000 === 0", "value": 1}, "value": 0}}},
                "y2": {"field": "hi"}
              }
            },
            {
              "data": {"name": "boxes"},
              "transform": [{"filter": "datum.panel === 'A'"}],
              "mark": {"type": "tick", "color": "#333333", "size": 8, "thickness": 1},
              "encoding": {"y": {"field": "lo", "type": "quantitative"}}
            },
            {
              "data": {"name": "boxes"},
              "transform": [{"filter": "datum.panel === 'A'"}],
              "mark": {"type": "tick", "color": "#333333", "size": 8, "thickness": 1},
              "encoding": {"y": {"field": "hi", "type": "quantitative"}}
            },
            {
              "data": {"name": "boxes"},
              "transform": [{"filter": "datum.panel === 'A'"}],
              "mark": {"type": "bar", "stroke": "#333333", "strokeWidth": 1},
              "encoding": {
                "y": {"field": "q1", "type": "quantitative"},
                "y2": {"field": "q3"},
                "fill": {"field": "dens", "type": "nominal", "title": "Stand density", "scale": {"domain": ["0.0", "0.4", "0.6", "0.8"], "range": ["#E3E3E3", "#B0B0B0", "#7E7E7E", "#4A4A4A"]},
                  "legend": {"orient": "none", "legendX": 251, "legendY": -52}}
              }
            },
            {
              "data": {"name": "boxes"},
              "transform": [{"filter": "datum.panel === 'A'"}],
              "mark": {"type": "tick", "color": "#333333", "size": 19.4, "thickness": 2.2},
              "encoding": {"y": {"field": "med", "type": "quantitative"}}
            },
            {
              "data": {"name": "outliers"},
              "transform": [{"filter": "datum.panel === 'A'"}],
              "mark": {"type": "circle", "color": "#333333", "size": 45, "opacity": 1},
              "encoding": {"y": {"field": "v", "type": "quantitative"}}
            },
            {
              "data": {"name": "letters"},
              "transform": [{"filter": "datum.panel === 'A'"}],
              "mark": {"type": "text", "angle": 315, "fontSize": 12, "color": "#000000", "align": "center", "baseline": "middle"},
              "encoding": {"y": {"datum": 140000, "type": "quantitative"}, "text": {"field": "lab"}}
            }
          ]
        },
        {
          "width": 532.5,
          "height": 240,
          "title": {"text": "B", "dx": -10.5},
          "encoding": {
            "x": {"field": "prep", "type": "nominal", "sort": ["Control", "Mulcher", "Cutter", "Rake"], "scale": {"paddingInner": 0.22, "paddingOuter": 0.21}, "axis": {"title": null}},
            "xOffset": {"field": "dens", "type": "nominal", "sort": ["0.0", "0.4", "0.6", "0.8"], "scale": {"paddingInner": 0.1, "paddingOuter": 0.05}}
          },
          "layer": [
            {
              "data": {"name": "boxes"},
              "transform": [{"filter": "datum.panel === 'B'"}],
              "mark": {"type": "rule", "color": "#333333", "strokeWidth": 1},
              "encoding": {
                "y": {"field": "lo", "type": "quantitative", "scale": {"domain": [-7500, 157500], "nice": false, "zero": false},
                  "axis": {"title": null, "values": [0, 25000, 50000, 75000, 100000, 125000, 150000], "labels": false, "grid": true,
                    "gridColor": {"condition": {"test": "datum.value % 50000 === 0", "value": "#E4E4E4"}, "value": "#F2F2F2"},
                    "gridWidth": {"condition": {"test": "datum.value % 50000 === 0", "value": 1}, "value": 0.8},
                    "tickOpacity": {"condition": {"test": "datum.value % 50000 === 0", "value": 1}, "value": 0}}},
                "y2": {"field": "hi"}
              }
            },
            {
              "data": {"name": "boxes"},
              "transform": [{"filter": "datum.panel === 'B'"}],
              "mark": {"type": "tick", "color": "#333333", "size": 9, "thickness": 1},
              "encoding": {"y": {"field": "lo", "type": "quantitative"}}
            },
            {
              "data": {"name": "boxes"},
              "transform": [{"filter": "datum.panel === 'B'"}],
              "mark": {"type": "tick", "color": "#333333", "size": 9, "thickness": 1},
              "encoding": {"y": {"field": "hi", "type": "quantitative"}}
            },
            {
              "data": {"name": "boxes"},
              "transform": [{"filter": "datum.panel === 'B'"}],
              "mark": {"type": "bar", "stroke": "#333333", "strokeWidth": 1},
              "encoding": {
                "y": {"field": "q1", "type": "quantitative"},
                "y2": {"field": "q3"},
                "fill": {"field": "dens", "type": "nominal", "title": "Stand density", "scale": {"domain": ["0.0", "0.4", "0.6", "0.8"], "range": ["#E3E3E3", "#B0B0B0", "#7E7E7E", "#4A4A4A"]},
                  "legend": {"orient": "none", "legendX": 251, "legendY": -52}}
              }
            },
            {
              "data": {"name": "boxes"},
              "transform": [{"filter": "datum.panel === 'B'"}],
              "mark": {"type": "tick", "color": "#333333", "size": 22.2, "thickness": 2.2},
              "encoding": {"y": {"field": "med", "type": "quantitative"}}
            },
            {
              "data": {"name": "outliers"},
              "transform": [{"filter": "datum.panel === 'B'"}],
              "mark": {"type": "circle", "color": "#333333", "size": 45, "opacity": 1},
              "encoding": {"y": {"field": "v", "type": "quantitative"}}
            },
            {
              "data": {"name": "letters"},
              "transform": [{"filter": "datum.panel === 'B'"}],
              "mark": {"type": "text", "angle": 315, "fontSize": 12, "color": "#000000", "align": "center", "baseline": "middle"},
              "encoding": {"y": {"datum": 140000, "type": "quantitative"}, "text": {"field": "lab"}}
            }
          ]
        }
      ]
    },
    {
      "width": 1026.5,
      "height": 240,
      "title": {"text": "C", "dx": -75},
      "encoding": {
        "x": {"field": "prep", "type": "nominal", "sort": ["Control", "Mulcher", "Cutter", "Rake"], "scale": {"paddingInner": 0.22, "paddingOuter": 0.21},
          "axis": {"title": "Soil preparation", "titleX": 476, "titleY": 58, "titleAlign": "center", "titleBaseline": "alphabetic"}},
        "xOffset": {"field": "dens", "type": "nominal", "sort": ["0.0", "0.4", "0.6", "0.8"], "scale": {"paddingInner": 0.1, "paddingOuter": 0.05}}
      },
      "layer": [
        {
          "data": {"name": "boxes"},
          "transform": [{"filter": "datum.panel === 'C'"}],
          "mark": {"type": "rule", "color": "#333333", "strokeWidth": 1},
          "encoding": {
            "y": {"field": "lo", "type": "quantitative", "scale": {"domain": [-7500, 157500], "nice": false, "zero": false},
              "axis": {"title": null,
                "values": [0, 25000, 50000, 75000, 100000, 125000, 150000], "labelExpr": "datum.value % 50000 === 0 ? format(datum.value, ',') : ''", "labelOverlap": false, "grid": true,
                "gridColor": {"condition": {"test": "datum.value % 50000 === 0", "value": "#E4E4E4"}, "value": "#F2F2F2"},
                "gridWidth": {"condition": {"test": "datum.value % 50000 === 0", "value": 1}, "value": 0.8},
                "tickOpacity": {"condition": {"test": "datum.value % 50000 === 0", "value": 1}, "value": 0}}},
            "y2": {"field": "hi"}
          }
        },
        {
          "data": {"name": "boxes"},
          "transform": [{"filter": "datum.panel === 'C'"}],
          "mark": {"type": "tick", "color": "#333333", "size": 18, "thickness": 1},
          "encoding": {"y": {"field": "lo", "type": "quantitative"}}
        },
        {
          "data": {"name": "boxes"},
          "transform": [{"filter": "datum.panel === 'C'"}],
          "mark": {"type": "tick", "color": "#333333", "size": 18, "thickness": 1},
          "encoding": {"y": {"field": "hi", "type": "quantitative"}}
        },
        {
          "data": {"name": "boxes"},
          "transform": [{"filter": "datum.panel === 'C'"}],
          "mark": {"type": "bar", "stroke": "#333333", "strokeWidth": 1},
          "encoding": {
            "y": {"field": "q1", "type": "quantitative"},
            "y2": {"field": "q3"},
            "fill": {"field": "dens", "type": "nominal", "title": "Stand density", "scale": {"domain": ["0.0", "0.4", "0.6", "0.8"], "range": ["#E3E3E3", "#B0B0B0", "#7E7E7E", "#4A4A4A"]},
              "legend": {"orient": "none", "legendX": 251, "legendY": -52}}
          }
        },
        {
          "data": {"name": "boxes"},
          "transform": [{"filter": "datum.panel === 'C'"}],
          "mark": {"type": "tick", "color": "#333333", "size": 42.9, "thickness": 2.6},
          "encoding": {"y": {"field": "med", "type": "quantitative"}}
        },
        {
          "data": {"name": "outliers"},
          "transform": [{"filter": "datum.panel === 'C'"}],
          "mark": {"type": "circle", "color": "#333333", "size": 55, "opacity": 1},
          "encoding": {"y": {"field": "v", "type": "quantitative"}}
        },
        {
          "data": {"name": "letters"},
          "transform": [{"filter": "datum.panel === 'C'"}],
          "mark": {"type": "text", "fontSize": 19.5, "color": "#000000", "align": "center", "baseline": "middle"},
          "encoding": {"y": {"datum": 143500, "type": "quantitative"}, "text": {"field": "lab"}}
        }
      ]
    }
  ]
}
